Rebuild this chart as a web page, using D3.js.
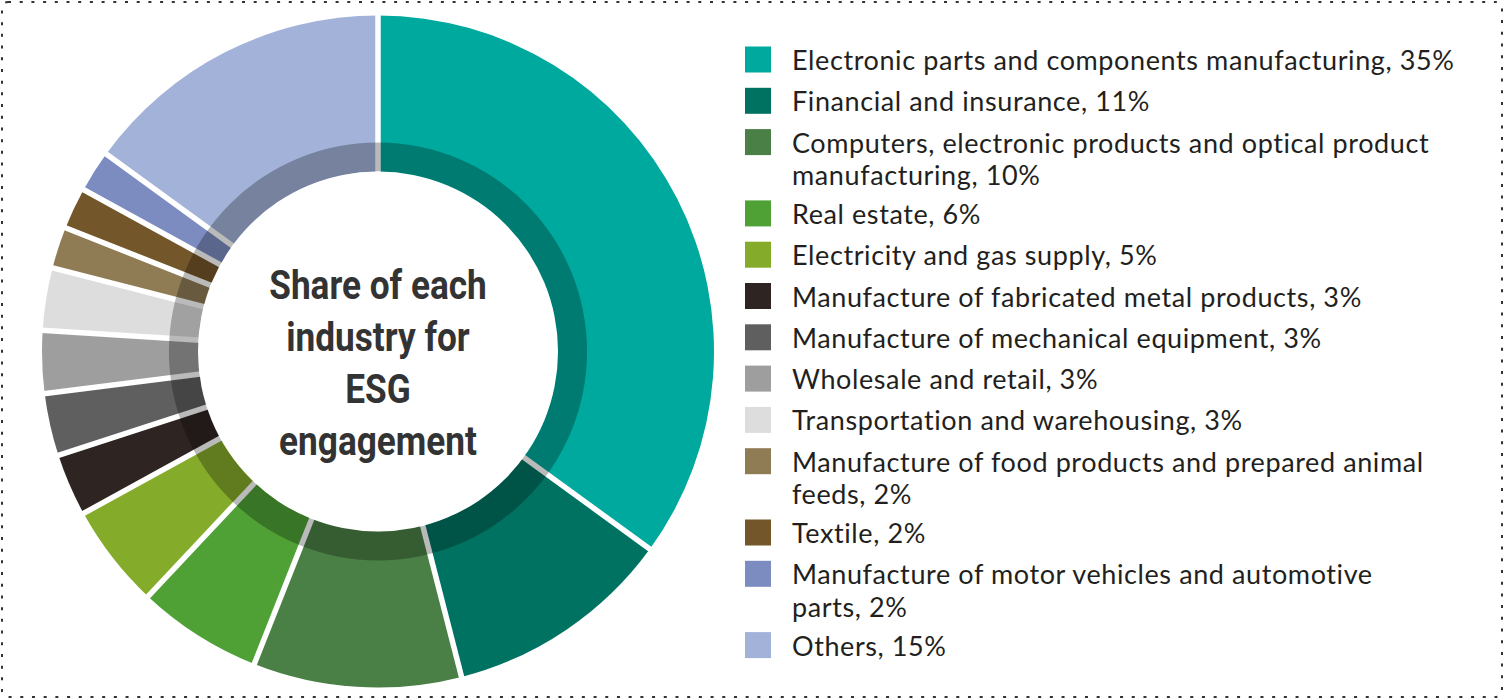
<!DOCTYPE html>
<html><head><meta charset="utf-8">
<script src="https://cdn.jsdelivr.net/npm/d3@7"></script>
<style>body{margin:0;background:#fff}svg{display:block}</style>
</head><body>
<svg id="c" width="1504" height="700"></svg>
<script>
const categories = [
  "Electronic parts and components manufacturing",
  "Financial and insurance",
  "Computers, electronic products and optical product manufacturing",
  "Real estate",
  "Electricity and gas supply",
  "Manufacture of fabricated metal products",
  "Manufacture of mechanical equipment",
  "Wholesale and retail",
  "Transportation and warehousing",
  "Manufacture of food products and prepared animal feeds",
  "Textile",
  "Manufacture of motor vehicles and automotive parts",
  "Others"
];
const values = [35, 11, 10, 6, 5, 3, 3, 3, 3, 2, 2, 2, 15];
const colors = ["#00a99d","#007262","#4a7f45","#4fa136","#85ab2a","#2e2422","#5f5f5f","#9e9e9e","#dcdddc","#8f7c55","#735629","#7d8cc0","#a2b2d9"];
// legend text lines (wrapped as in the reference)
const legendLines = [
  ["Electronic parts and components manufacturing, 35%"],
  ["Financial and insurance, 11%"],
  ["Computers, electronic products and optical product","manufacturing, 10%"],
  ["Real estate, 6%"],
  ["Electricity and gas supply, 5%"],
  ["Manufacture of fabricated metal products, 3%"],
  ["Manufacture of mechanical equipment, 3%"],
  ["Wholesale and retail, 3%"],
  ["Transportation and warehousing, 3%"],
  ["Manufacture of food products and prepared animal","feeds, 2%"],
  ["Textile, 2%"],
  ["Manufacture of motor vehicles and automotive","parts, 2%"],
  ["Others, 15%"]
];
const titleLines = ["Share of each", "industry for", "ESG", "engagement"];

const svg = d3.select("#c");
// dotted frame
svg.append("rect").attr("x",2).attr("y",2).attr("width",1500).attr("height",695)
  .attr("rx",6).attr("fill","none").attr("stroke","#333").attr("stroke-width",2)
  .attr("stroke-dasharray","3 8.7");

const cx = 378, cy = 351.5, R = 336, Rring = 209, Rhole = 180;
const g = svg.append("g").attr("transform",`translate(${cx},${cy})`);
const pie = d3.pie().sort(null).value(d=>d);
const arcs = pie(values);
const arc = d3.arc().innerRadius(0).outerRadius(R);
g.selectAll("path.s").data(arcs).join("path").attr("class","s")
  .attr("d",arc).attr("fill",(d,i)=>colors[i]);
// white separators
g.selectAll("line.sep").data(arcs).join("line").attr("class","sep")
  .attr("x1",0).attr("y1",0)
  .attr("x2",d=>Math.sin(d.startAngle)*(R+5))
  .attr("y2",d=>-Math.cos(d.startAngle)*(R+5))
  .attr("stroke","#fff").attr("stroke-width",5.5);
// dark inner ring overlay
g.append("path").attr("d",d3.arc().innerRadius(Rhole).outerRadius(Rring).startAngle(0).endAngle(2*Math.PI)())
  .attr("fill","#000").attr("fill-opacity",0.27);
g.append("circle").attr("r",Rhole).attr("fill","#fff");
// title
const t = g.append("g").attr("transform","scale(0.88,1)");
t.append("text").attr("text-anchor","middle").attr("font-family","Roboto").attr("font-weight",700)
  .attr("font-size",40).attr("fill","#333")
  .selectAll("tspan").data(titleLines).join("tspan")
  .attr("x",0).attr("y",(d,i)=>-52.5+i*52).text(d=>d);

// legend
const lx = 745, tx = 792, y0 = 70, step = 41.3, extra = 30, lh = 32.5;
let extraCount = 0;
const rows = legendLines.map((lines,i)=>{
  const y = y0 + i*step + extraCount*extra;
  extraCount += lines.length-1;
  return {lines, y, i};
});
const lg = svg.append("g");
const rg = lg.selectAll("g").data(rows).join("g");
rg.append("rect").attr("x",lx).attr("y",d=>d.y-23.5).attr("width",26).attr("height",26)
  .attr("fill",d=>colors[d.i]);
rg.each(function(d){
  d3.select(this).append("text")
    .attr("font-family","Lato").attr("font-size",27).attr("letter-spacing",0.6)
    .attr("fill","#231f20")
    .selectAll("tspan").data(d.lines).join("tspan")
    .attr("x",tx).attr("y",(l,j)=>d.y+j*lh).text(l=>l);
});
</script>
</body></html>
